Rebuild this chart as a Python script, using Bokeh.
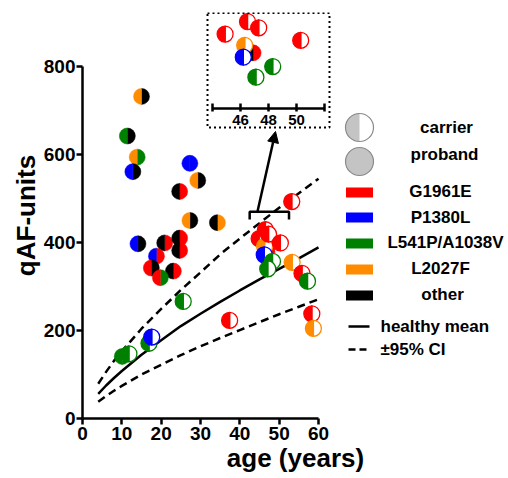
from bokeh.plotting import figure
from bokeh.models import Range1d, FixedTicker, Arrow, NormalHead
from bokeh.core.properties import value
from bokeh.embed import file_html
from bokeh.resources import INLINE

FONT = "Liberation Sans"

# ---------------- data ----------------
allele_names = ["G1961E", "P1380L", "L541P/A1038V", "L2027F", "other"]
allele_colors = ["#ff0000", "#0000ff", "#008000", "#ff8c00", "#000000"]

proband_age = [15.0, 11.4, 13.9, 12.8, 27.3, 29.3, 24.7, 27.3, 34.3, 14.1,
               20.9, 24.7, 24.7, 18.8, 17.5, 23.1, 19.8, 10.1, 46.9]
proband_qaf = [732, 642, 594, 561, 580, 541, 516, 450, 445, 397,
               399, 410, 382, 369, 342, 335, 320, 141, 379]
proband_left = ["L2027F", "L541P/A1038V", "L2027F", "P1380L", "P1380L", "L2027F", "other",
                "L2027F", "other", "P1380L", "other", "other", "other", "P1380L",
                "G1961E", "other", "G1961E", "L541P/A1038V", "other"]
proband_right = ["other", "other", "L541P/A1038V", "other", "P1380L", "other", "G1961E",
                 "other", "L2027F", "other", "G1961E", "G1961E", "G1961E", "G1961E",
                 "other", "G1961E", "L541P/A1038V", "L541P/A1038V", "G1961E"]

carrier_age = [11.8, 16.9, 17.6, 25.6, 37.4, 44.9, 46.3, 46.2, 48.3, 47.1,
               46.5, 47.3, 50.3, 53.2, 53.3, 55.8, 57.2, 58.3, 58.7]
carrier_qaf = [147, 171, 185, 266, 223, 409, 391, 372, 357, 340,
               429, 419, 399, 493, 355, 330, 312, 238, 205]
carrier_allele = ["L541P/A1038V", "L541P/A1038V", "P1380L", "L541P/A1038V", "G1961E",
                  "G1961E", "L2027F", "P1380L", "L541P/A1038V", "L541P/A1038V",
                  "G1961E", "G1961E", "G1961E", "G1961E", "L2027F", "G1961E",
                  "L541P/A1038V", "G1961E", "L2027F"]

curve_age = [4, 6, 8, 10, 15, 20, 25, 30, 35, 40, 45, 50, 55, 60]
healthy_mean = [56, 75, 92, 108, 145, 178, 210, 238, 265, 291, 316, 340, 364, 389]
ci_upper = [79, 106, 131, 153, 204, 249, 292, 332, 373, 409, 444, 479, 512, 545]
ci_lower = [38, 51, 63, 74, 100, 122, 144, 164, 183, 201, 219, 237, 254, 271]

x_ticks = [0, 10, 20, 30, 40, 50, 60]
y_ticks = [0, 200, 400, 600, 800]
inset_ticks = [44, 46, 48, 50, 52]
inset_tick_labels = ["", "46", "48", "50", ""]
inset_age_window = (44, 52)
inset_qaf_window = (300, 445)
bracket_age = (42.5, 52.5)
bracket_qaf = (452, 470)
status_labels = ["carrier", "proband"]
curve_labels = ["healthy mean", "\u00b195% CI"]

color_of = dict(zip(allele_names, allele_colors))

# ---------------- figure ----------------
p = figure(width=508, height=478, output_backend="svg", toolbar_location=None,
           x_range=Range1d(0, 108.3), y_range=Range1d(0, 922.7),
           min_border_left=82, min_border_right=0, min_border_top=12, min_border_bottom=60)
p.extra_x_ranges = {"ix": Range1d(34.714, 65.143), "px": Range1d(82, 508)}
p.extra_y_ranges = {"iy": Range1d(-206.1, 443.5), "py": Range1d(418, 12)}

p.xgrid.visible = False
p.ygrid.visible = False
p.outline_line_color = None
p.background_fill_color = "white"

for ax, ticks, bnds, lab in ((p.xaxis[0], x_ticks, (0, 60), "age (years)"),
                             (p.yaxis[0], y_ticks, (0, 800), "qAF-units")):
    ax.ticker = FixedTicker(ticks=ticks)
    ax.bounds = bnds
    ax.axis_label = lab
    ax.axis_label_text_font = FONT
    ax.axis_label_text_font_style = "bold"
    ax.axis_label_text_font_size = "26px"
    ax.axis_label_text_color = "black"
    ax.axis_label_standoff = 0
    ax.major_label_text_font = FONT
    ax.major_label_text_font_style = "bold"
    ax.major_label_text_font_size = "19px"
    ax.major_label_text_color = "black"
    ax.axis_line_width = 2.5
    ax.major_tick_line_width = 2.5
    ax.major_tick_out = 6
    ax.major_tick_in = 0
    ax.minor_tick_line_color = None
    ax.major_label_standoff = 2
p.yaxis[0].major_label_standoff = 1

# curves
p.line(curve_age, healthy_mean, line_color="black", line_width=2.5)
p.line(curve_age, ci_upper, line_color="black", line_width=2.5, line_dash="8 5")
p.line(curve_age, ci_lower, line_color="black", line_width=2.5, line_dash="8 5")

R = 8


def draw_point(x, y, lc, rc, carrier, xr="default", yr="default"):
    if carrier:
        p.wedge(x=[x], y=[y], radius=R, radius_units="screen", start_angle=-90, end_angle=90,
                start_angle_units="deg", end_angle_units="deg",
                fill_color="white", line_color=lc, line_width=1.3,
                x_range_name=xr, y_range_name=yr)
        p.wedge(x=[x], y=[y], radius=R, radius_units="screen", start_angle=90, end_angle=270,
                start_angle_units="deg", end_angle_units="deg",
                fill_color=lc, line_color=lc, line_width=1.3,
                x_range_name=xr, y_range_name=yr)
    else:
        p.wedge(x=[x], y=[y], radius=R, radius_units="screen", start_angle=-90, end_angle=90,
                start_angle_units="deg", end_angle_units="deg",
                fill_color=rc, line_color=rc, line_width=0.5,
                x_range_name=xr, y_range_name=yr)
        p.wedge(x=[x], y=[y], radius=R, radius_units="screen", start_angle=90, end_angle=270,
                start_angle_units="deg", end_angle_units="deg",
                fill_color=lc, line_color=lc, line_width=0.5,
                x_range_name=xr, y_range_name=yr)


def in_window(a, v):
    return inset_age_window[0] <= a <= inset_age_window[1] and inset_qaf_window[0] <= v <= inset_qaf_window[1]


for xr, yr, inset in (("default", "default", False), ("ix", "iy", True)):
    for a, v, l, r in zip(proband_age, proband_qaf, proband_left, proband_right):
        if inset and not in_window(a, v):
            continue
        draw_point(a, v, color_of[l], color_of[r], False, xr, yr)
    for a, v, l in zip(carrier_age, carrier_qaf, carrier_allele):
        if inset and not in_window(a, v):
            continue
        draw_point(a, v, color_of[l], None, True, xr, yr)

# bracket marking the zoomed region
p.line([bracket_age[0], bracket_age[0], bracket_age[1], bracket_age[1]],
       [bracket_qaf[0], bracket_qaf[1], bracket_qaf[1], bracket_qaf[0]],
       line_color="black", line_width=2.5)

# inset frame, axis
p.quad(left=[207], right=[329], top=[12.5], bottom=[127], fill_color=None, line_color="black",
       line_width=2, line_dash="2 3", x_range_name="px", y_range_name="py")
p.line([inset_ticks[0], inset_ticks[-1]], [108, 108], line_color="black", line_width=2.5,
       x_range_name="ix", y_range_name="py")
p.segment(x0=inset_ticks, y0=[103] * len(inset_ticks), x1=inset_ticks, y1=[111] * len(inset_ticks),
          line_color="black", line_width=2.5, x_range_name="ix", y_range_name="py")
p.text(x=inset_ticks, y=[119] * len(inset_ticks), text=inset_tick_labels,
       text_font=value(FONT), text_font_style="bold", text_font_size="15px",
       text_align="center", text_baseline="middle", x_range_name="ix", y_range_name="py")

p.add_layout(Arrow(end=NormalHead(size=11, fill_color="black", line_color="black"),
                   x_start=257, y_start=211, x_end=275, y_end=131, line_width=2.5,
                   x_range_name="px", y_range_name="py"))

# ---------------- legend ----------------
p.wedge(x=[359], y=[127], radius=14, radius_units="screen", start_angle=90, end_angle=270,
        start_angle_units="deg", end_angle_units="deg", fill_color="#c4c4c4", line_color=None,
        x_range_name="px", y_range_name="py")
p.scatter(x=[359], y=[127], size=28, marker="circle", fill_color=None, line_color="#8a8a8a",
          line_width=1.2, x_range_name="px", y_range_name="py")
p.scatter(x=[359], y=[161], size=28, marker="circle", fill_color="#c4c4c4", line_color="#8a8a8a",
          line_width=1.2, x_range_name="px", y_range_name="py")
p.text(x=[446, 444], y=[127, 154], text=status_labels, text_font=value(FONT),
       text_font_style="bold", text_font_size="17px", text_align="center",
       text_baseline="middle", x_range_name="px", y_range_name="py")

leg_y = [192, 217, 243, 269, 295]
p.rect(x=[359] * 5, y=leg_y, width=27, height=10, width_units="screen", height_units="screen",
       fill_color=allele_colors, line_color=None, x_range_name="px", y_range_name="py")
p.text(x=[440, 440, 445, 440, 442], y=[191, 217, 242, 268, 294], text=allele_names,
       text_font=value(FONT), text_font_style="bold", text_font_size="17px", text_align="center",
       text_baseline="middle", x_range_name="px", y_range_name="py")

p.line([348, 369], [326, 326], line_color="black", line_width=2.5, x_range_name="px", y_range_name="py")
p.line([348, 369], [349, 349], line_color="black", line_width=2.5, line_dash="7 4",
       x_range_name="px", y_range_name="py")
p.text(x=[380, 380], y=[326, 349], text=curve_labels, text_font=value(FONT),
       text_font_style="bold", text_font_size="17px", text_align="left",
       text_baseline="middle", x_range_name="px", y_range_name="py")

open("out.html", "w").write(file_html(p, INLINE))
